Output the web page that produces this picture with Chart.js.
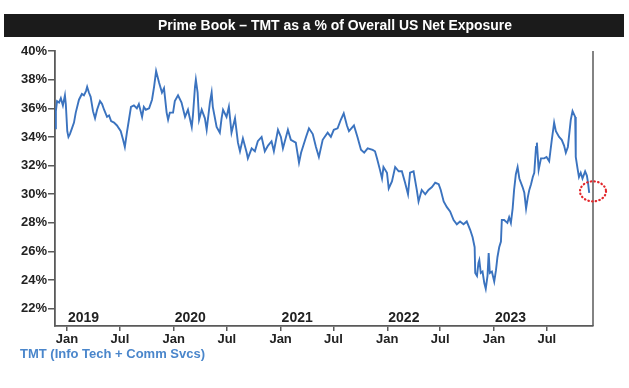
<!doctype html>
<html>
<head>
<meta charset="utf-8">
<title>Prime Book - TMT share</title>
<script src="https://cdn.jsdelivr.net/npm/chart.js@4/dist/chart.umd.min.js"></script>
<style>
  html, body { margin: 0; padding: 0; background: #fff; }
  canvas { display: block; }
</style>
</head>
<body>
<canvas id="chart-area" width="629" height="388"></canvas>
<script>
// TMT (Info Tech + Comm Svcs) as a % of overall US net exposure
var dates = [
  '2018-11-21','2018-11-24','2018-11-28','2018-12-05','2018-12-11','2018-12-18','2018-12-25','2018-12-28',
  '2019-01-02','2019-01-06','2019-01-11','2019-01-18','2019-01-25','2019-01-31','2019-02-11','2019-02-21',
  '2019-02-28','2019-03-07','2019-03-11','2019-03-17','2019-03-23','2019-03-31','2019-04-07','2019-04-14',
  '2019-04-24','2019-05-01','2019-05-08','2019-05-18','2019-05-25','2019-06-01','2019-06-11','2019-06-21',
  '2019-07-04','2019-07-12','2019-07-18','2019-07-25','2019-08-01','2019-08-08','2019-08-18','2019-08-28',
  '2019-09-04','2019-09-15','2019-09-21','2019-09-28','2019-10-09','2019-10-19','2019-10-26','2019-11-02',
  '2019-11-12','2019-11-22','2019-11-29','2019-12-08','2019-12-13','2019-12-19','2019-12-30',
  '2020-01-05','2020-01-16','2020-01-28','2020-02-09','2020-02-19','2020-03-03','2020-03-07','2020-03-14',
  '2020-03-17','2020-03-23','2020-03-28','2020-04-06','2020-04-17','2020-04-23','2020-05-04','2020-05-10',
  '2020-05-14','2020-05-27','2020-06-07','2020-06-13','2020-06-18','2020-06-30','2020-07-08','2020-07-17',
  '2020-07-29','2020-08-08','2020-08-15','2020-08-25','2020-09-07','2020-09-11','2020-09-24','2020-10-05',
  '2020-10-15','2020-10-28','2020-11-08','2020-11-19','2020-12-01','2020-12-09','2020-12-23',
  '2021-01-02','2021-01-09','2021-01-26','2021-02-05','2021-02-22','2021-03-05','2021-03-12','2021-03-29',
  '2021-04-08','2021-04-21','2021-05-02','2021-05-12','2021-05-25','2021-06-11','2021-06-22','2021-07-02',
  '2021-07-15','2021-07-26','2021-08-05','2021-08-16','2021-08-23','2021-09-09','2021-09-21','2021-10-03',
  '2021-10-14','2021-10-26','2021-11-12','2021-11-20','2021-11-27','2021-12-07','2021-12-14','2021-12-19',
  '2021-12-31',
  '2022-01-06','2022-01-17','2022-01-28','2022-02-09','2022-02-20','2022-03-03','2022-03-13','2022-03-20',
  '2022-04-01','2022-04-12','2022-04-18','2022-04-29','2022-05-11','2022-05-22','2022-06-03','2022-06-14',
  '2022-06-26','2022-07-03','2022-07-13','2022-07-24','2022-08-04','2022-08-16','2022-08-27','2022-09-07',
  '2022-09-19','2022-09-30','2022-10-12','2022-10-20','2022-10-27','2022-10-29','2022-11-04','2022-11-09',
  '2022-11-12','2022-11-17','2022-11-23','2022-11-29','2022-12-04','2022-12-10','2022-12-14','2022-12-18',
  '2022-12-25',
  '2023-01-02','2023-01-08','2023-01-13','2023-01-19','2023-01-25','2023-01-28','2023-02-05','2023-02-16',
  '2023-02-22','2023-02-28','2023-03-06','2023-03-11','2023-03-17','2023-03-23','2023-03-29','2023-04-09',
  '2023-04-15','2023-04-21','2023-04-27','2023-05-02','2023-05-08','2023-05-14','2023-05-19','2023-05-25',
  '2023-05-28','2023-06-03','2023-06-11','2023-06-22','2023-06-30','2023-07-09','2023-07-18','2023-07-26',
  '2023-08-01','2023-08-12','2023-08-21','2023-08-29','2023-09-04','2023-09-11','2023-09-21','2023-09-27',
  '2023-10-06','2023-10-08','2023-10-14','2023-10-19','2023-10-25','2023-10-31','2023-11-09','2023-11-15',
  '2023-11-19','2023-11-23'
];
var tmt = [
  34.6,35.8,36.5,36.4,36.7,36.2,36.9,36.3,
  34.4,34.0,34.2,34.6,35.0,35.7,36.6,37.0,
  36.9,37.2,37.5,37.1,36.8,35.8,35.3,35.9,
  36.5,36.3,35.9,35.4,35.5,35.1,35.0,34.8,
  34.4,33.8,33.3,34.3,35.2,36.1,36.2,36.0,
  36.3,35.4,36.1,35.9,36.0,36.6,37.5,38.6,
  37.8,37.1,37.4,35.7,35.2,35.7,35.7,
  36.5,36.9,36.4,35.4,35.9,34.7,35.5,37.5,
  38.0,37.1,35.2,35.9,35.3,34.5,36.4,37.1,
  36.1,34.7,34.3,35.3,35.9,35.4,36.1,34.3,
  35.3,33.6,33.0,33.9,32.9,32.5,33.2,33.0,
  33.7,34.0,33.0,33.4,33.7,33.0,34.5,
  34.0,33.2,34.5,33.8,33.6,32.2,32.9,34.0,
  34.6,34.2,33.3,32.6,33.8,34.3,34.0,34.5,
  34.6,35.2,35.65,34.8,34.4,34.8,34.0,33.1,
  32.9,33.2,33.1,33.0,32.5,31.7,31.1,31.9,
  31.5,
  30.4,30.9,31.9,31.6,31.6,30.8,30.0,31.5,
  31.6,30.3,29.5,30.3,30.0,30.3,30.5,30.8,
  30.7,30.3,29.5,29.1,28.8,28.2,27.9,28.1,
  27.9,28.1,27.5,27.0,26.3,24.5,24.3,25.2,
  25.4,24.5,24.6,23.8,23.4,24.3,25.9,24.5,
  24.6,
  23.9,24.7,25.6,26.3,26.7,28.2,28.2,28.0,
  28.4,28.0,29.0,30.3,31.4,31.9,31.1,30.5,
  30.1,29.0,29.8,30.3,30.7,31.2,31.5,33.3,
  33.6,31.7,32.5,32.5,32.6,32.3,33.8,35.0,
  34.4,34.0,33.8,33.4,32.9,33.3,35.2,35.8,
  35.4,32.6,31.8,31.2,31.5,31.1,31.6,31.3,
  30.8,30.1
];

var xTickDates = ['2019-01-01','2019-07-01','2020-01-01','2020-07-01','2021-01-01','2021-07-01',
                  '2022-01-01','2022-07-01','2023-01-01','2023-07-01'];
var xTickLabels = ['Jan','Jul','Jan','Jul','Jan','Jul','Jan','Jul','Jan','Jul'];
var yearDates = ['2019-01-01','2020-01-01','2021-01-01','2022-01-01','2023-01-01'];
var yearLabels = ['2019','2020','2021','2022','2023'];
var yTicks = [22, 24, 26, 28, 30, 32, 34, 36, 38, 40];

// latest reading, ringed in red on the original
var highlightDate = '2023-12-06';
var highlightValue = 30.2;

var title = 'Prime Book \u2013 TMT as a % of Overall US Net Exposure';
var seriesName = 'TMT (Info Tech + Comm Svcs)';

var lineColor = '#3b73bf';
var axisColor = '#5a5a5a';
var textColor = '#222';
var FONT = '"Liberation Sans", Arial, sans-serif';

function dayOf(s) {
  return (Date.parse(s) - Date.parse('2019-01-01')) / 864e5;
}

var points = dates.map(function (d, i) { return { x: dayOf(d), y: tmt[i] }; });

var decorations = {
  id: 'decorations',
  afterDraw: function (chart) {
    var ctx = chart.ctx;
    var area = chart.chartArea;
    var xs = chart.scales.x;
    var ys = chart.scales.y;
    ctx.save();

    // title bar
    ctx.fillStyle = '#1b1b1b';
    ctx.fillRect(4, 14, 620, 23);
    ctx.fillStyle = '#fff';
    ctx.font = 'bold 14px "Liberation Sans Narrow", ' + FONT;
    ctx.textBaseline = 'middle';
    ctx.textAlign = 'center';
    var w = ctx.measureText(title).width;
    var sx = Math.min(1, 354 / w);
    ctx.save();
    ctx.translate(335, 26);
    ctx.scale(sx, 1);
    ctx.fillText(title, 0, 0);
    ctx.restore();

    // right frame line
    ctx.strokeStyle = axisColor;
    ctx.lineWidth = 1.5;
    ctx.beginPath();
    ctx.moveTo(area.right, area.top);
    ctx.lineTo(area.right, area.bottom);
    ctx.stroke();

    // year labels inside the plot
    ctx.fillStyle = textColor;
    ctx.font = 'bold 14px ' + FONT;
    ctx.textAlign = 'left';
    ctx.textBaseline = 'middle';
    yearDates.forEach(function (d, i) {
      ctx.fillText(yearLabels[i], xs.getPixelForValue(dayOf(d)) + 1, area.bottom - 8);
    });

    // series name under the axis
    ctx.fillStyle = '#4a86cb';
    ctx.font = 'bold 13px ' + FONT;
    ctx.fillText(seriesName, 20, 354);

    // red dotted ring round the last reading
    var cx = xs.getPixelForValue(dayOf(highlightDate));
    var cy = ys.getPixelForValue(highlightValue);
    ctx.strokeStyle = '#e3262b';
    ctx.lineWidth = 2.2;
    ctx.lineCap = 'round';
    ctx.setLineDash([0.5, 3.2]);
    ctx.beginPath();
    ctx.ellipse(cx, cy, 13, 10, 0, 0, Math.PI * 2);
    ctx.stroke();
    ctx.restore();
  }
};

var ctx = document.getElementById('chart-area').getContext('2d');
new Chart(ctx, {
  type: 'line',
  data: {
    datasets: [{
      label: seriesName,
      data: points,
      borderColor: lineColor,
      borderWidth: 1.9,
      pointRadius: 0,
      tension: 0,
      fill: false
    }]
  },
  options: {
    responsive: false,
    animation: false,
    devicePixelRatio: 1,
    layout: { padding: { left: 0, right: 36, top: 51, bottom: 32 } },
    plugins: { legend: { display: false }, title: { display: false }, tooltip: { enabled: false } },
    scales: {
      x: {
        type: 'linear',
        min: dayOf('2018-11-21'),
        max: dayOf('2023-12-06'),
        afterBuildTicks: function (scale) {
          scale.ticks = xTickDates.map(function (d) { return { value: dayOf(d) }; });
        },
        afterFit: function (scale) { scale.height = 30; },
        ticks: {
          autoSkip: false,
          maxRotation: 0,
          padding: 1,
          color: textColor,
          font: { family: FONT, size: 13, weight: 'bold' },
          callback: function (v, i) { return xTickLabels[i]; }
        },
        grid: { display: true, drawOnChartArea: false, drawTicks: true, tickLength: 5, color: axisColor, lineWidth: 1.5 },
        border: { display: true, color: axisColor, width: 1.8 }
      },
      y: {
        min: 20.8,
        max: 40,
        afterBuildTicks: function (scale) {
          scale.ticks = yTicks.map(function (v) { return { value: v }; });
        },
        afterFit: function (scale) { scale.width = 55; },
        ticks: {
          padding: 1,
          color: textColor,
          font: { family: FONT, size: 13, weight: 'bold' },
          callback: function (v) { return v + '%'; }
        },
        grid: { display: true, drawOnChartArea: false, drawTicks: true, tickLength: 7, color: axisColor, lineWidth: 1.5 },
        border: { display: true, color: axisColor, width: 1.8 }
      }
    }
  },
  plugins: [decorations]
});
</script>
</body>
</html>
